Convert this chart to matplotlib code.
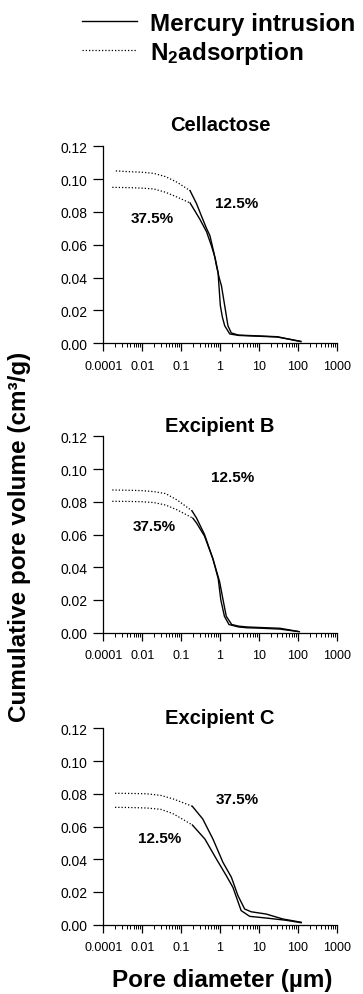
import matplotlib
matplotlib.use("Agg")
import matplotlib.pyplot as plt
from matplotlib.ticker import FixedLocator, LogLocator, NullFormatter, FormatStrFormatter
from matplotlib.lines import Line2D

plt.rcParams['font.family'] = ['Liberation Sans', 'DejaVu Sans']
plt.rcParams['mathtext.fontset'] = 'custom'
plt.rcParams['mathtext.rm'] = 'Liberation Sans:bold'
plt.rcParams['mathtext.it'] = 'Liberation Sans:bold'
plt.rcParams['mathtext.bf'] = 'Liberation Sans:bold'

# ---------------- data ----------------
titles = ["Cellactose", "Excipient B", "Excipient C"]
xtick_pos = [1e-3, 1e-2, 1e-1, 1, 10, 100, 1000]
xtick_labels = ["0.0001", "0.01", "0.1", "1", "10", "100", "1000"]
yticks = [0.00, 0.02, 0.04, 0.06, 0.08, 0.10, 0.12]

# Cellactose
cel_n2_hi_d = [0.0021, 0.005, 0.01, 0.02, 0.04, 0.08, 0.17]
cel_n2_hi_v = [0.105, 0.1045, 0.1042, 0.1035, 0.1015, 0.098, 0.093]
cel_hg_hi_d = [0.17, 0.25, 0.33, 0.45, 0.55, 0.7, 0.81, 0.95, 1.09, 1.32, 1.6, 1.95, 3, 10, 30, 120]
cel_hg_hi_v = [0.093, 0.085, 0.0778, 0.070, 0.0656, 0.055, 0.0473, 0.040, 0.035, 0.023, 0.0107, 0.0063, 0.005, 0.0045, 0.004, 0.001]
cel_n2_lo_d = [0.0017, 0.005, 0.01, 0.02, 0.04, 0.08, 0.17]
cel_n2_lo_v = [0.095, 0.0948, 0.0945, 0.094, 0.092, 0.089, 0.0855]
cel_hg_lo_d = [0.17, 0.3, 0.45, 0.6, 0.75, 0.89, 1.02, 1.15, 1.32, 1.78, 3, 10, 30, 120]
cel_hg_lo_v = [0.0855, 0.0758, 0.068, 0.0595, 0.052, 0.0433, 0.023, 0.016, 0.0107, 0.0057, 0.0048, 0.0043, 0.0038, 0.0012]

# Excipient B
exb_n2_hi_d = [0.0017, 0.005, 0.01, 0.02, 0.04, 0.08, 0.19]
exb_n2_hi_v = [0.0872, 0.087, 0.0868, 0.0862, 0.085, 0.081, 0.0745]
exb_hg_hi_d = [0.19, 0.25, 0.4, 0.66, 0.98, 1.2, 1.45, 2.0, 3, 5, 10, 35, 100]
exb_hg_hi_v = [0.0745, 0.070, 0.060, 0.045, 0.031, 0.020, 0.010, 0.005, 0.004, 0.0035, 0.0032, 0.0027, 0.0008]
exb_n2_lo_d = [0.0017, 0.005, 0.01, 0.02, 0.04, 0.08, 0.2]
exb_n2_lo_v = [0.0803, 0.0802, 0.080, 0.0795, 0.078, 0.075, 0.070]
exb_hg_lo_d = [0.2, 0.25, 0.4, 0.66, 0.9, 1.05, 1.3, 1.7, 3, 5, 10, 35, 110]
exb_hg_lo_v = [0.070, 0.067, 0.059, 0.045, 0.033, 0.020, 0.010, 0.005, 0.0035, 0.003, 0.0028, 0.0022, 0.0006]

# Excipient C
exc_n2_hi_d = [0.002, 0.005, 0.013, 0.03, 0.06, 0.1, 0.195]
exc_n2_hi_v = [0.0803, 0.0802, 0.080, 0.079, 0.077, 0.075, 0.0723]
exc_hg_hi_d = [0.195, 0.36, 0.66, 1.19, 1.96, 2.9, 4.3, 6.3, 15.5, 41, 122]
exc_hg_hi_v = [0.0723, 0.0646, 0.0523, 0.0381, 0.029, 0.0177, 0.0096, 0.0079, 0.0065, 0.0035, 0.0015]
exc_n2_lo_d = [0.002, 0.005, 0.013, 0.03, 0.06, 0.1, 0.195]
exc_n2_lo_v = [0.0717, 0.0716, 0.0713, 0.0705, 0.068, 0.065, 0.0609]
exc_hg_lo_d = [0.195, 0.41, 0.81, 1.45, 2.15, 3.5, 5.8, 15, 50, 122]
exc_hg_lo_v = [0.0609, 0.0523, 0.0401, 0.030, 0.0228, 0.0086, 0.0051, 0.0041, 0.0027, 0.0012]

# percentage labels: (text, x, y)
cel_labels = [("12.5%", 2.7, 0.0855), ("37.5%", 0.018, 0.0761)]
exb_labels = [("12.5%", 2.1, 0.0951), ("37.5%", 0.02, 0.0652)]
exc_labels = [("37.5%", 2.85, 0.0771), ("12.5%", 0.028, 0.0527)]

panels = [
    (cel_n2_hi_d, cel_n2_hi_v, cel_hg_hi_d, cel_hg_hi_v, cel_n2_lo_d, cel_n2_lo_v, cel_hg_lo_d, cel_hg_lo_v, cel_labels),
    (exb_n2_hi_d, exb_n2_hi_v, exb_hg_hi_d, exb_hg_hi_v, exb_n2_lo_d, exb_n2_lo_v, exb_hg_lo_d, exb_hg_lo_v, exb_labels),
    (exc_n2_hi_d, exc_n2_hi_v, exc_hg_hi_d, exc_hg_hi_v, exc_n2_lo_d, exc_n2_lo_v, exc_hg_lo_d, exc_hg_lo_v, exc_labels),
]

# ---------------- figure ----------------
W, H = 363, 995
fig = plt.figure(figsize=(W / 100, H / 100), dpi=100)

left = 103.3 / W
width = 233.4 / W
tops = [147.3, 437.3, 729.3]
bottoms = [344.3, 633.7, 925.7]
title_pads = [11.5, 4, 4]

lw = 1.0
dot = (0, (1, 1.6))
for i, p in enumerate(panels):
    ax = fig.add_axes([left, 1 - bottoms[i] / H, width, (bottoms[i] - tops[i]) / H])
    n2hd, n2hv, hghd, hghv, n2ld, n2lv, hgld, hglv, labs = p
    ax.plot(n2hd, n2hv, color='black', lw=0.9, ls=dot)
    ax.plot(n2ld, n2lv, color='black', lw=0.9, ls=dot)
    ax.plot(hghd, hghv, color='black', lw=lw)
    ax.plot(hgld, hglv, color='black', lw=lw)
    for t, x, y in labs:
        ax.text(x, y, t, ha='center', va='center', fontsize=11, fontweight='bold')
    ax.set_xscale('log')
    ax.set_xlim(1e-3, 1e3)
    ax.set_ylim(0, 0.12)
    ax.xaxis.set_major_locator(FixedLocator(xtick_pos))
    ax.set_xticklabels(xtick_labels)
    ax.xaxis.set_minor_locator(LogLocator(base=10, subs=range(2, 10), numticks=20))
    ax.xaxis.set_minor_formatter(NullFormatter())
    ax.set_yticks(yticks)
    ax.yaxis.set_major_formatter(FormatStrFormatter('%.2f'))
    ax.spines['top'].set_visible(False)
    ax.spines['right'].set_visible(False)
    for s in ('left', 'bottom'):
        ax.spines[s].set_linewidth(0.9)
    ax.tick_params(axis='x', which='major', direction='out', length=6, width=0.9, pad=6, labelsize=9)
    ax.tick_params(axis='x', which='minor', direction='out', length=3, width=0.7)
    ax.tick_params(axis='y', which='major', direction='out', length=7, width=0.9, pad=4.5, labelsize=10)
    ax.set_title(titles[i], fontsize=14.5, fontweight='bold', pad=title_pads[i])

fig.text(20 / W, 1 - 537 / H, "Cumulative pore volume (cm³/g)", rotation=90,
         ha='center', va='center', fontsize=17.5, fontweight='bold')
fig.text(222 / W, 1 - 981 / H, "Pore diameter (µm)", ha='center', va='center',
         fontsize=17.5, fontweight='bold')

handles = [Line2D([], [], color='black', lw=lw),
           Line2D([], [], color='black', lw=0.9, ls=dot)]
labels = ["Mercury intrusion", r"N$_2$adsorption"]
fig.legend(handles, labels, loc='upper left', bbox_to_anchor=(82 / W, 1 - 13 / H),
           frameon=False, prop={'weight': 'bold', 'size': 17.5},
           handlelength=2.25, handletextpad=0.55, labelspacing=0.15,
           borderpad=0, borderaxespad=0)

fig.savefig("out.png", dpi=100)
